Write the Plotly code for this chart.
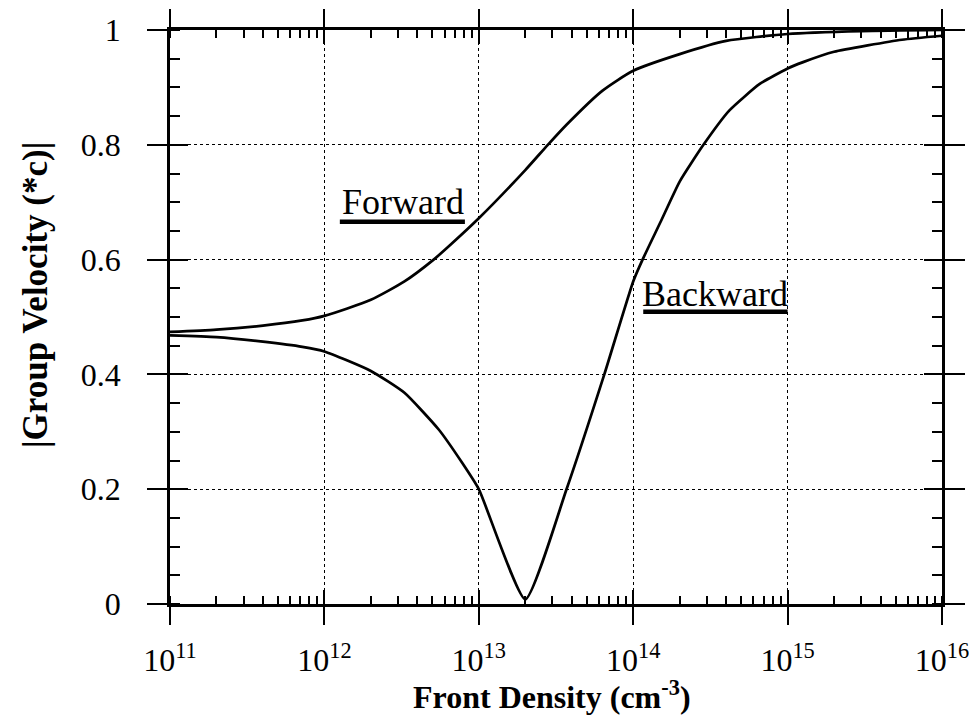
import plotly.graph_objects as go

# ---- data ----
density_forward = [1e11, 2e11, 4e11, 7.2e11, 1e12, 2e12, 3.3e12, 5.1e12, 6.5e12, 1e13,
                   2e13, 2.8e13, 3.7e13, 6.3e13, 1e14, 2e14, 4e14, 1e15, 3e15, 1e16]
velocity_forward = [0.474, 0.478, 0.485, 0.494, 0.502, 0.530, 0.562, 0.600, 0.625, 0.672,
                    0.756, 0.800, 0.835, 0.894, 0.929, 0.958, 0.981, 0.993, 0.998, 1.0]

density_backward = [1e11, 2e11, 4e11, 7.2e11, 1e12, 2e12, 3.3e12, 5.5e12, 7.8e12, 1e13,
                    2e13, 3.7e13, 6.5e13, 1e14, 1.15e14, 1.5e14, 2e14, 2.85e14, 4.2e14,
                    6.6e14, 1e15, 1.26e15, 2e15, 5.5e15, 1e16]
velocity_backward = [0.468, 0.465, 0.457, 0.448, 0.440, 0.406, 0.368, 0.304, 0.246, 0.2,
                     0.008, 0.2, 0.4, 0.562, 0.60, 0.665, 0.736, 0.80, 0.86,
                     0.906, 0.933, 0.944, 0.962, 0.983, 0.99]

x_tickvals = [1e11, 1e12, 1e13, 1e14, 1e15, 1e16]
x_ticktext = ["10<sup>11</sup>", "10<sup>12</sup>", "10<sup>13</sup>",
              "10<sup>14</sup>", "10<sup>15</sup>", "10<sup>16</sup>"]
y_tickvals = [0, 0.2, 0.4, 0.6, 0.8, 1.0]
y_ticktext = ["0", "0.2", "0.4", "0.6", "0.8", "1"]

curve_labels = ["Forward", "Backward"]
x_title = "<b>Front Density (cm<sup>-3</sup>)</b>"
y_title = "<b>|Group Velocity (*c)|</b>"

SERIF = "Liberation Serif, Times New Roman, serif"
BLACK = "black"

fig = go.Figure()
fig.add_trace(go.Scatter(x=density_forward, y=velocity_forward, mode="lines",
                         line=dict(color=BLACK, width=2.7, shape="spline", smoothing=0.6),
                         name=curve_labels[0], showlegend=False))
fig.add_trace(go.Scatter(x=density_backward, y=velocity_backward, mode="lines",
                         line=dict(color=BLACK, width=2.7, shape="spline", smoothing=0.5),
                         name=curve_labels[1], showlegend=False))
# empty trace to host the overlay axes (inward major ticks)
fig.add_trace(go.Scatter(x=[], y=[], xaxis="x2", yaxis="y2", showlegend=False))

fig.update_layout(
    width=969, height=711,
    margin=dict(l=162, r=35, t=22, b=115),
    paper_bgcolor="white", plot_bgcolor="white",
    font=dict(family=SERIF, color=BLACK),
    xaxis=dict(
        type="log", range=[11, 16], automargin=False,
        tickmode="array", tickvals=x_tickvals, ticktext=x_ticktext,
        ticks="outside", ticklen=18, tickwidth=2, tickcolor=BLACK,
        ticklabelstandoff=8,
        showline=True, linewidth=2.5, linecolor=BLACK, mirror="ticks",
        showgrid=True, gridcolor=BLACK, griddash="dot", gridwidth=1.3,
        zeroline=False,
        minor=dict(ticks="inside", ticklen=8, tickwidth=1.5, tickcolor=BLACK,
                   dtick="D1", showgrid=False),
        tickfont=dict(size=32, family=SERIF, color=BLACK),
    ),
    yaxis=dict(
        range=[0, 1], automargin=False,
        tickmode="array", tickvals=y_tickvals, ticktext=y_ticktext,
        ticks="outside", ticklen=20, tickwidth=2, tickcolor=BLACK,
        ticklabelstandoff=20,
        showline=True, linewidth=2.5, linecolor=BLACK, mirror="ticks",
        showgrid=True, gridcolor=BLACK, griddash="dot", gridwidth=1.3,
        zeroline=False,
        minor=dict(ticks="inside", ticklen=10, tickwidth=2, tickcolor=BLACK,
                   dtick=0.05, showgrid=False),
        tickfont=dict(size=32, family=SERIF, color=BLACK),
    ),
    xaxis2=dict(
        type="log", range=[11, 16], overlaying="x", anchor="y", side="bottom",
        tickmode="array", tickvals=x_tickvals, automargin=False,
        ticks="inside", ticklen=14, tickwidth=2, tickcolor=BLACK, mirror="ticks",
        showticklabels=False, showgrid=False, showline=False, zeroline=False,
    ),
    yaxis2=dict(
        range=[0, 1], overlaying="y", anchor="x", side="left", automargin=False,
        tickmode="array", tickvals=y_tickvals,
        ticks="inside", ticklen=18, tickwidth=2, tickcolor=BLACK, mirror="ticks",
        showticklabels=False, showgrid=False, showline=False, zeroline=False,
    ),
)

# axis titles placed as annotations for exact positioning
fig.add_annotation(x=0.495, y=-0.158, xref="paper", yref="paper", text=x_title,
                   showarrow=False, xanchor="center", yanchor="middle",
                   font=dict(size=32, family=SERIF, color=BLACK))
fig.add_annotation(x=-0.175, y=0.538, xref="paper", yref="paper", text=y_title,
                   textangle=-90, showarrow=False, xanchor="center", yanchor="middle",
                   font=dict(size=35, family=SERIF, color=BLACK))

# curve labels with thick underlines
fig.add_annotation(x=12.51, y=0.70, xref="x", yref="y", text=curve_labels[0],
                   showarrow=False, font=dict(size=36, family=SERIF, color=BLACK))
fig.add_annotation(x=14.53, y=0.54, xref="x", yref="y", text=curve_labels[1],
                   showarrow=False, font=dict(size=36, family=SERIF, color=BLACK))
fig.add_shape(type="line", xref="paper", yref="paper", x0=0.220, x1=0.382, y0=0.666, y1=0.666,
              line=dict(color=BLACK, width=4.5))
fig.add_shape(type="line", xref="paper", yref="paper", x0=0.613, x1=0.800, y0=0.509, y1=0.509,
              line=dict(color=BLACK, width=4.5))

fig.write_html("out.html")
